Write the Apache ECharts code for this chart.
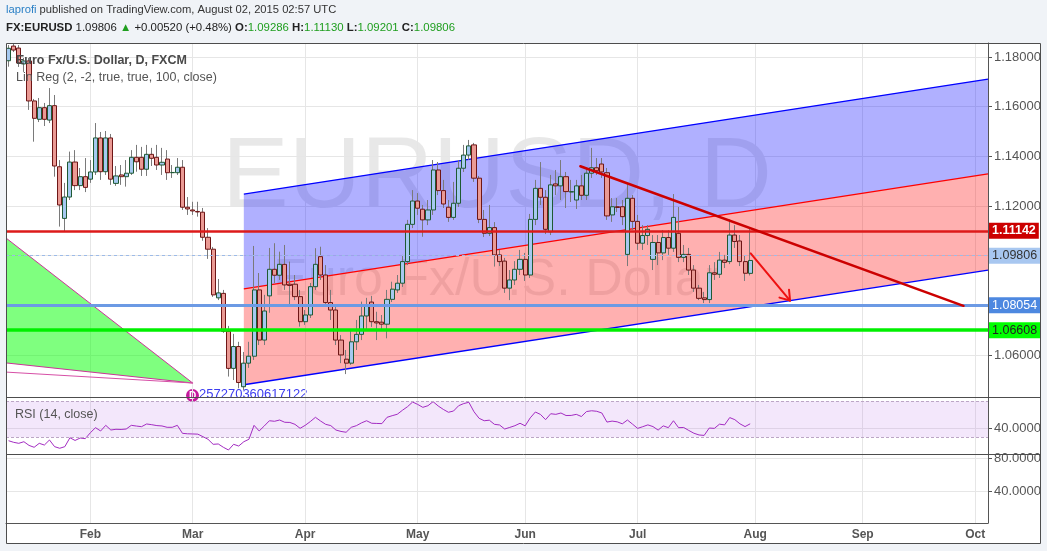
<!DOCTYPE html>
<html>
<head>
<meta charset="utf-8">
<title>FX:EURUSD D</title>
<script src="https://cdn.jsdelivr.net/npm/echarts@6.0.0/dist/echarts.min.js"></script>
<style>
  html, body { margin: 0; padding: 0; background: #f0f3f7; }
  #main { width: 1047px; height: 551px; }
</style>
</head>
<body>
<div id="main"></div>
<script>
// FX:EURUSD daily bars (FXCM), 2015-01-09 .. 2015-07-31
var opens = [
  1.1785, 1.1844, 1.1836, 1.1772, 1.1784, 1.1623, 1.1549, 1.1596, 1.1546, 1.1604,
  1.1358, 1.1150, 1.1236, 1.1377, 1.1282, 1.1318, 1.1308, 1.1337, 1.1474, 1.1338,
  1.1474, 1.1291, 1.1325, 1.1318, 1.1332, 1.1396, 1.1396, 1.1348, 1.1408, 1.1396,
  1.1365, 1.1389, 1.1334, 1.1334, 1.1356, 1.1195, 1.1184, 1.1178, 1.1175, 1.1074,
  1.1026, 1.0830, 1.0848, 1.0695, 1.0546, 1.0634, 1.0472, 1.0567, 1.0595, 1.0862,
  1.0660, 1.0838, 1.0945, 1.0921, 1.0965, 1.0885, 1.0885, 1.0835, 1.0734, 1.0761,
  1.0875, 1.0996, 1.0922, 1.0811, 1.0781, 1.0660, 1.0583, 1.0567, 1.0653, 1.0683,
  1.0757, 1.0813, 1.0734, 1.0732, 1.0724, 1.0824, 1.0862, 1.0889, 1.0976, 1.1126,
  1.1220, 1.1187, 1.1144, 1.1184, 1.1345, 1.1262, 1.1195, 1.1154, 1.1211, 1.1352,
  1.1405, 1.1446, 1.1312, 1.1146, 1.1090, 1.1113, 1.1003, 1.0978, 1.0869, 1.0902,
  1.0945, 1.0985, 1.0922, 1.1146, 1.1271, 1.1235, 1.1096, 1.1289, 1.1281, 1.1318,
  1.1256, 1.1224, 1.1281, 1.1243, 1.1332, 1.1354, 1.1369, 1.1334, 1.1164, 1.1197,
  1.1197, 1.1005, 1.1231, 1.1138, 1.1050, 1.1081, 1.0985, 1.1053, 1.1011, 1.1073,
  1.1030, 1.1090, 1.0993, 1.1005, 1.0942, 1.0869, 1.0830, 1.0823, 1.0931, 1.0925,
  1.0982, 1.0976, 1.1083, 1.1059, 1.0976, 1.09286
];
var closes = [
  1.1835, 1.1828, 1.1776, 1.1784, 1.1623, 1.1553, 1.1596, 1.1549, 1.1604, 1.1361,
  1.1204, 1.1236, 1.1377, 1.1282, 1.1318, 1.1275, 1.1337, 1.1474, 1.1338, 1.1474,
  1.1308, 1.1321, 1.1318, 1.1332, 1.1396, 1.1378, 1.1348, 1.1408, 1.1392, 1.1365,
  1.1376, 1.1334, 1.1335, 1.1356, 1.1195, 1.1188, 1.1180, 1.1176, 1.1074, 1.1026,
  1.0842, 1.0850, 1.0695, 1.0546, 1.0634, 1.0489, 1.0567, 1.0595, 1.0862, 1.0660,
  1.0777, 1.0945, 1.0921, 1.0965, 1.0882, 1.0880, 1.0835, 1.0734, 1.0761, 1.0875,
  1.0965, 1.0922, 1.0811, 1.0781, 1.0660, 1.0600, 1.0567, 1.0653, 1.0683, 1.0757,
  1.0801, 1.0734, 1.0729, 1.0724, 1.0824, 1.0865, 1.0889, 1.0976, 1.1126, 1.1220,
  1.1191, 1.1144, 1.1184, 1.1345, 1.1262, 1.1208, 1.1154, 1.1211, 1.1352, 1.1405,
  1.1442, 1.1312, 1.1146, 1.1090, 1.1113, 1.1003, 1.0976, 1.0869, 1.0902, 1.0945,
  1.0985, 1.0922, 1.1146, 1.1271, 1.1235, 1.1106, 1.1285, 1.1281, 1.1318, 1.1258,
  1.1258, 1.1281, 1.1243, 1.1332, 1.1354, 1.1342, 1.1337, 1.1160, 1.1197, 1.1194,
  1.1157, 1.1231, 1.1138, 1.1050, 1.1081, 1.1106, 1.1053, 1.1011, 1.1073, 1.1030,
  1.1154, 1.0993, 1.1005, 1.0942, 1.0869, 1.0828, 1.0823, 1.0931, 1.0925, 1.0982,
  1.0973, 1.1083, 1.1057, 1.0976, 1.0929, 1.09806
];
var lows = [
  1.1761, 1.1820, 1.1760, 1.1740, 1.1587, 1.1459, 1.1538, 1.1522, 1.1534, 1.1318,
  1.1117, 1.1096, 1.1224, 1.1264, 1.1264, 1.1256, 1.1293, 1.1325, 1.1305, 1.1325,
  1.1285, 1.1281, 1.1285, 1.1278, 1.1325, 1.1338, 1.1321, 1.1321, 1.1361, 1.1345,
  1.1325, 1.1305, 1.1313, 1.1325, 1.1184, 1.1164, 1.1164, 1.1157, 1.1060, 1.0987,
  1.0834, 1.0821, 1.0689, 1.0513, 1.0499, 1.0466, 1.0459, 1.0548, 1.0580, 1.0640,
  1.0640, 1.0770, 1.0890, 1.0902, 1.0862, 1.0801, 1.0821, 1.0714, 1.0721, 1.0749,
  1.0862, 1.0902, 1.0801, 1.0741, 1.0640, 1.0567, 1.0523, 1.0560, 1.0620, 1.0660,
  1.0701, 1.0713, 1.0660, 1.0701, 1.0667, 1.0813, 1.0850, 1.0874, 1.0962, 1.1111,
  1.1164, 1.1076, 1.1123, 1.1164, 1.1244, 1.1192, 1.1136, 1.1144, 1.1196, 1.1337,
  1.1385, 1.1297, 1.1131, 1.1075, 1.1079, 1.0956, 1.0958, 1.0850, 1.0821, 1.0882,
  1.0922, 1.0898, 1.0910, 1.1123, 1.1204, 1.1087, 1.1083, 1.1244, 1.1224, 1.1192,
  1.1216, 1.1188, 1.1224, 1.1224, 1.1313, 1.1325, 1.1313, 1.1144, 1.1136, 1.1176,
  1.1123, 1.0958, 1.1103, 1.1023, 1.1023, 1.1043, 1.0942, 1.0962, 1.0982, 1.1003,
  1.1015, 1.0974, 1.0974, 1.0922, 1.0854, 1.0821, 1.0809, 1.0809, 1.0902, 1.0910,
  1.0950, 1.0966, 1.1031, 1.0958, 1.0898, 1.09201
];
var highs = [
  1.1848, 1.1856, 1.1848, 1.1796, 1.1796, 1.1631, 1.1635, 1.1615, 1.1675, 1.1647,
  1.1385, 1.1293, 1.1419, 1.1425, 1.1353, 1.1393, 1.1385, 1.1534, 1.1498, 1.1502,
  1.1490, 1.1361, 1.1365, 1.1385, 1.1425, 1.1446, 1.1438, 1.1446, 1.1434, 1.1446,
  1.1434, 1.1425, 1.1365, 1.1393, 1.1385, 1.1236, 1.1217, 1.1217, 1.1192, 1.1111,
  1.1035, 1.0906, 1.0862, 1.0717, 1.0685, 1.0653, 1.0612, 1.0653, 1.1039, 1.0930,
  1.0842, 1.1031, 1.1050, 1.1016, 1.1043, 1.0976, 1.0922, 1.0862, 1.0781, 1.0890,
  1.1030, 1.1036, 1.0962, 1.0862, 1.0801, 1.0680, 1.0620, 1.0701, 1.0741, 1.0815,
  1.0830, 1.0838, 1.0774, 1.0761, 1.0862, 1.0895, 1.0922, 1.1003, 1.1144, 1.1264,
  1.1252, 1.1204, 1.1224, 1.1385, 1.1377, 1.1305, 1.1224, 1.1297, 1.1385, 1.1446,
  1.1466, 1.1454, 1.1321, 1.1184, 1.1204, 1.1135, 1.1023, 1.0991, 1.0942, 1.0978,
  1.1023, 1.1011, 1.1168, 1.1305, 1.1377, 1.1264, 1.1325, 1.1345, 1.1385, 1.1337,
  1.1305, 1.1305, 1.1325, 1.1353, 1.1434, 1.1393, 1.1393, 1.1353, 1.1232, 1.1232,
  1.1224, 1.1291, 1.1244, 1.1164, 1.1123, 1.1123, 1.1083, 1.1083, 1.1103, 1.1103,
  1.1248, 1.1196, 1.1043, 1.1031, 1.0962, 1.0882, 1.0854, 1.0962, 1.0974, 1.1015,
  1.1003, 1.1146, 1.1123, 1.1083, 1.0999, 1.11130
];
// RSI (14, close)
var rsiValues = [
  26.2, 24.4, 23.3, 25.1, 21.0, 18.9, 23.3, 21.4, 27.0, 19.6,
  17.8, 19.6, 29.5, 26.5, 29.2, 28.5, 35.1, 40.7, 37.0, 43.3,
  38.1, 38.9, 38.7, 39.2, 43.3, 42.5, 41.8, 44.8, 44.0, 43.0,
  42.6, 41.1, 41.1, 43.3, 34.4, 33.9, 33.7, 33.5, 30.7, 27.8,
  22.2, 22.6, 18.9, 15.9, 22.2, 20.3, 25.1, 27.8, 43.3, 37.0,
  42.6, 48.4, 47.8, 49.2, 46.7, 46.5, 44.4, 40.0, 43.3, 47.5,
  52.2, 48.1, 44.4, 43.0, 38.1, 36.5, 35.6, 41.1, 42.9, 46.0,
  48.4, 45.6, 45.4, 45.2, 52.2, 54.0, 55.6, 60.0, 64.0, 69.2,
  66.5, 63.3, 65.1, 69.6, 64.8, 61.0, 57.8, 59.2, 65.1, 67.5,
  68.9, 58.4, 51.1, 48.4, 49.0, 44.4, 43.7, 39.2, 41.0, 42.9,
  45.6, 42.7, 51.6, 58.1, 55.4, 49.6, 56.2, 55.5, 57.0, 54.2,
  54.3, 55.5, 53.1, 58.6, 59.5, 58.9, 57.0, 46.9, 48.0, 47.2,
  45.0, 49.2, 44.6, 39.9, 41.8, 43.8, 41.9, 38.0, 42.7, 40.7,
  48.4, 40.7, 40.9, 37.6, 34.5, 32.6, 32.1, 40.3, 39.9, 44.6,
  43.8, 51.9, 49.6, 45.0, 41.9, 45.0
];

// drawings (bar index, price)
var chanX = [46, 191.5];
var chanUpper = [1.1248, 1.1711];
var chanMid = [1.0866, 1.1329];
var chanLower = [1.0480, 1.0942];
var trendX = [111.8, 186.7];
var trendY = [1.1360, 1.0798];
var arrowX = [145.1, 152.8];
var arrowY = [1.1009, 1.0819];
var triX = [-0.5, 36, -0.5];
var triY = [1.1071, 1.0487, 1.0568];
var wedgeX = [-0.5, 36];
var wedgeY = [1.0531, 1.0487];
var levels = [1.11142, 1.08054, 1.06608];
var lastClose = 1.09806;

var priceTicks = [1.06, 1.08, 1.10, 1.12, 1.14, 1.16, 1.18];
var priceLabels = [1.06, 1.12, 1.14, 1.16, 1.18];
var rsiTicks = [40];
var lowerTicks = [40, 80];
var MONTHS = ['Jan','Feb','Mar','Apr','May','Jun','Jul','Aug','Sep','Oct','Nov','Dec'];

var N_BARS = 192; // slots on screen, incl. empty space on the right

// weekday dates from 2015-01-09
var dates = [];
(function () {
  var d = new Date(Date.UTC(2015, 0, 9));
  while (dates.length < N_BARS) {
    var w = d.getUTCDay();
    if (w !== 0 && w !== 6) dates.push(d.toISOString().slice(0, 10));
    d.setUTCDate(d.getUTCDate() + 1);
  }
})();
var monthStarts = [];
dates.forEach(function (s, i) {
  if (i > 0 && s.slice(5, 7) !== dates[i - 1].slice(5, 7)) monthStarts.push(i);
});

var ohlc = opens.map(function (o, i) { return [o, closes[i], lows[i], highs[i]]; });
var bodies = opens.map(function (o, i) {
  return [o, closes[i], Math.min(o, closes[i]), Math.max(o, closes[i])];
});

var FONT = 'Liberation Sans, Arial, sans-serif';
var GRID_COLOR = '#e6e6e6';
var AXIS_COLOR = '#555';

function timeAxis(grid, withLabels) {
  return {
    type: 'value', gridIndex: grid, min: -0.5, max: N_BARS - 0.5,
    axisLine: { show: withLabels, onZero: false, lineStyle: { color: AXIS_COLOR } },
    axisTick: { show: false, customValues: monthStarts },
    axisLabel: {
      show: withLabels, customValues: monthStarts, margin: 6,
      color: '#555', fontSize: 12, fontWeight: 'bold', fontFamily: FONT,
      formatter: function (v) { return MONTHS[+dates[Math.round(v)].slice(5, 7) - 1]; }
    },
    splitLine: { show: true, lineStyle: { color: GRID_COLOR, width: 1 } }
  };
}

function priceAxis(grid, min, max, ticks, labels, digits) {
  return {
    type: 'value', gridIndex: grid, position: 'right', min: min, max: max,
    axisLine: { show: true, onZero: false, lineStyle: { color: AXIS_COLOR } },
    axisTick: { show: true, inside: false, length: 4, customValues: ticks, lineStyle: { color: AXIS_COLOR } },
    axisLabel: {
      customValues: labels, margin: 6, color: '#555', fontSize: 13, fontFamily: FONT,
      formatter: function (v) { return v.toFixed(digits); }
    },
    splitLine: { show: true, lineStyle: { color: GRID_COLOR, width: 1 } }
  };
}

function renderChannel(params, api) {
  var xa = api.value(0), xb = api.value(1);
  var ua = api.coord([xa, api.value(2)]), ub = api.coord([xb, api.value(3)]);
  var ma = api.coord([xa, api.value(4)]), mb = api.coord([xb, api.value(5)]);
  var la = api.coord([xa, api.value(6)]), lb = api.coord([xb, api.value(7)]);
  function seg(a, b, c) {
    return { type: 'line', shape: { x1: a[0], y1: a[1], x2: b[0], y2: b[1] }, style: { stroke: c, lineWidth: 1.3 } };
  }
  return {
    type: 'group',
    children: [
      { type: 'polygon', shape: { points: [ua, ub, mb, ma] }, style: { fill: 'rgba(0,0,255,0.31)' } },
      { type: 'polygon', shape: { points: [ma, mb, lb, la] }, style: { fill: 'rgba(255,0,0,0.31)' } },
      seg(ua, ub, '#0000ff'), seg(ma, mb, '#ff0000'), seg(la, lb, '#0000ff')
    ]
  };
}

function renderTriangle(params, api) {
  var p = [api.coord([api.value(0), api.value(1)]),
           api.coord([api.value(2), api.value(3)]),
           api.coord([api.value(4), api.value(5)])];
  return { type: 'polygon', shape: { points: p },
           style: { fill: 'rgba(0,255,0,0.5)', stroke: '#cc3399', lineWidth: 1 } };
}

function renderSegment(color, width, head) {
  return function (params, api) {
    var a = api.coord([api.value(0), api.value(1)]);
    var b = api.coord([api.value(2), api.value(3)]);
    var kids = [{ type: 'line', shape: { x1: a[0], y1: a[1], x2: b[0], y2: b[1] },
                  style: { stroke: color, lineWidth: width, lineCap: 'round' } }];
    if (head) {
      var ang = Math.atan2(b[1] - a[1], b[0] - a[0]);
      [0.6, -0.6].forEach(function (d) {
        kids.push({ type: 'line',
          shape: { x1: b[0], y1: b[1], x2: b[0] - 11 * Math.cos(ang + d), y2: b[1] - 11 * Math.sin(ang + d) },
          style: { stroke: color, lineWidth: width, lineCap: 'round' } });
      });
    }
    return { type: 'group', children: kids };
  };
}

function tag(value, line, bg, fg, bold) {
  return {
    yAxis: value,
    lineStyle: line,
    label: {
      show: true, position: 'end', distance: 1,
      formatter: value.toFixed(5),
      backgroundColor: bg, color: fg, padding: [2, 3, 1, 3],
      fontSize: 12.5, fontFamily: FONT, fontWeight: bold ? 'bold' : 'normal'
    }
  };
}

var chart = echarts.init(document.getElementById('main'), null, { renderer: 'canvas' });

chart.setOption({
  backgroundColor: '#f0f3f7',
  animation: false,
  textStyle: { fontFamily: FONT },
  grid: [
    { left: 6, right: 59, top: 43, height: 354, outerBoundsMode: 'none' },
    { left: 6, right: 59, top: 397, height: 57, outerBoundsMode: 'none' },
    { left: 6, right: 59, top: 454, height: 69, outerBoundsMode: 'none' }
  ],
  xAxis: [
    { type: 'category', gridIndex: 0, data: dates, boundaryGap: true, show: false },
    timeAxis(0, false),
    timeAxis(1, false),
    timeAxis(2, true)
  ],
  yAxis: [
    priceAxis(0, 1.04307, 1.18564, priceTicks, priceLabels, 5),
    priceAxis(1, 11.44, 74.78, rsiTicks, rsiTicks, 4),
    priceAxis(2, 0.86, 85.26, lowerTicks, lowerTicks, 4)
  ],
  series: [
    {
      type: 'custom', name: 'Lin Reg', xAxisIndex: 1, yAxisIndex: 0, z: 1, silent: true,
      renderItem: renderChannel,
      encode: { x: [0, 1], y: [2, 3, 4, 5, 6, 7] },
      data: [[chanX[0], chanX[1], chanUpper[0], chanUpper[1], chanMid[0], chanMid[1], chanLower[0], chanLower[1]]]
    },
    {
      type: 'custom', name: 'triangle', xAxisIndex: 1, yAxisIndex: 0, z: 1, silent: true, clip: true,
      renderItem: renderTriangle,
      encode: { x: [0, 2, 4], y: [1, 3, 5] },
      data: [[triX[0], triY[0], triX[1], triY[1], triX[2], triY[2]]]
    },
    {
      type: 'custom', name: 'wedge', xAxisIndex: 1, yAxisIndex: 0, z: 1, silent: true, clip: true,
      renderItem: renderSegment('#d64fa6', 1, false),
      encode: { x: [0, 2], y: [1, 3] },
      data: [[wedgeX[0], wedgeY[0], wedgeX[1], wedgeY[1]]]
    },
    {
      type: 'candlestick', name: 'wicks', xAxisIndex: 0, yAxisIndex: 0, z: 2, silent: true,
      barWidth: 1,
      itemStyle: { color: '#7a7a7a', color0: '#7a7a7a', borderColor: '#7a7a7a', borderColor0: '#7a7a7a', borderWidth: 1 },
      data: ohlc
    },
    {
      type: 'candlestick', name: 'EURUSD', xAxisIndex: 0, yAxisIndex: 0, z: 3, silent: true,
      barWidth: 4.6,
      itemStyle: {
        color: '#a6c9f0', color0: '#ea9a94',
        borderColor: '#1f5a34', borderColor0: '#6e1616', borderWidth: 1
      },
      data: bodies
    },
    {
      type: 'line', name: 'levels', xAxisIndex: 1, yAxisIndex: 0, z: 5, data: [],
      markLine: {
        silent: true, symbol: ['none', 'none'], animation: false,
        data: [
          tag(lastClose, { color: '#9dbbe8', width: 1, type: [3, 3] }, '#a8c7f0', '#333', false),
          tag(levels[2], { color: '#00f000', width: 3.5, type: 'solid' }, '#00ff00', '#222', false),
          tag(levels[1], { color: '#6c9ae4', width: 3, type: 'solid' }, '#4d88e0', '#fff', false),
          tag(levels[0], { color: '#dd1a1a', width: 2.5, type: 'solid' }, '#cc0000', '#fff', true)
        ]
      }
    },
    {
      type: 'custom', name: 'trend', xAxisIndex: 1, yAxisIndex: 0, z: 6, silent: true,
      renderItem: renderSegment('#cc0000', 2.5, false),
      encode: { x: [0, 2], y: [1, 3] },
      data: [[trendX[0], trendY[0], trendX[1], trendY[1]]]
    },
    {
      type: 'custom', name: 'arrow', xAxisIndex: 1, yAxisIndex: 0, z: 6, silent: true,
      renderItem: renderSegment('#ee1111', 2, true),
      encode: { x: [0, 2], y: [1, 3] },
      data: [[arrowX[0], arrowY[0], arrowX[1], arrowY[1]]]
    },
    {
      type: 'line', name: 'RSI', xAxisIndex: 2, yAxisIndex: 1, z: 3,
      symbol: 'none', silent: true,
      lineStyle: { color: '#a32cc2', width: 1 },
      data: rsiValues.map(function (v, i) { return [i, v]; }),
      markArea: {
        silent: true,
        itemStyle: { color: 'rgba(190,120,235,0.18)' },
        data: [[{ yAxis: 30 }, { yAxis: 70 }]]
      },
      markLine: {
        silent: true, symbol: ['none', 'none'],
        label: { show: false },
        lineStyle: { color: '#bca6c6', width: 1, type: [3, 2] },
        data: [{ yAxis: 70 }, { yAxis: 30 }]
      }
    }
  ],
  graphic: [
    { type: 'rect', z: -10, silent: true, shape: { x: 6.5, y: 43.5, width: 1034, height: 500 }, style: { fill: '#fff' } },
    { type: 'text', z: 0, silent: true, x: 497, y: 229,
      style: { text: 'EURUSD, D', fill: 'rgba(0,0,0,0.09)', font: '100px ' + FONT, align: 'center', verticalAlign: 'bottom' } },
    { type: 'text', z: 0, silent: true, x: 497, y: 307,
      style: { text: 'Euro Fx/U.S. Dollar', fill: 'rgba(0,0,0,0.09)', font: '52px ' + FONT, align: 'center', verticalAlign: 'bottom' } },
    { type: 'text', z: 10, silent: true, x: 6, y: 10,
      style: {
        text: '{u|laprofi} published on TradingView.com, August 02, 2015 02:57 UTC',
        fill: '#333', font: '11.2px ' + FONT, verticalAlign: 'middle',
        rich: { u: { fill: '#2a80c6', font: '11.2px ' + FONT } }
      } },
    { type: 'text', z: 10, silent: true, x: 6, y: 28,
      style: {
        text: '{b|FX:EURUSD} 1.09806 {g|\u25B2} +0.00520 (+0.48%) {b|O:}{g|1.09286} {b|H:}{g|1.11130} {b|L:}{g|1.09201} {b|C:}{g|1.09806}',
        fill: '#222', font: '11.4px ' + FONT, verticalAlign: 'middle',
        rich: {
          b: { fill: '#222', font: 'bold 11.4px ' + FONT },
          g: { fill: '#1f9e1f', font: '11.4px ' + FONT }
        }
      } },
    { type: 'text', z: 10, silent: true, x: 16, y: 61,
      style: { text: 'Euro Fx/U.S. Dollar, D, FXCM', fill: '#4a4a4a', font: 'bold 12.5px ' + FONT, verticalAlign: 'middle' } },
    { type: 'text', z: 10, silent: true, x: 16, y: 77.5,
      style: { text: 'Lin Reg (2, -2, true, true, 100, close)', fill: '#555', font: '12.5px ' + FONT, verticalAlign: 'middle' } },
    { type: 'text', z: 10, silent: true, x: 15, y: 415,
      style: { text: 'RSI (14, close)', fill: '#555', font: '12.5px ' + FONT, verticalAlign: 'middle' } },
    { type: 'circle', z: 0, silent: true, shape: { cx: 192.5, cy: 395.5, r: 6.5 }, style: { fill: '#c4199c' } },
    { type: 'text', z: 0, silent: true, x: 192.5, y: 396,
      style: { text: 'D', fill: '#fff', font: 'bold 10px ' + FONT, align: 'center', verticalAlign: 'middle' } },
    { type: 'text', z: 0, silent: true, x: 199, y: 401,
      style: { text: '257270360617122', fill: '#3c3cf0', font: '13px ' + FONT, verticalAlign: 'bottom' } },
    { type: 'rect', z: 50, silent: true, shape: { x: 6.5, y: 43.5, width: 1034, height: 500 },
      style: { fill: 'none', stroke: '#4d4d4d', lineWidth: 1 } },
    { type: 'line', z: 50, silent: true, shape: { x1: 6.5, y1: 397.5, x2: 1040.5, y2: 397.5 },
      style: { stroke: '#4d4d4d', lineWidth: 1 } },
    { type: 'line', z: 50, silent: true, shape: { x1: 6.5, y1: 454.5, x2: 1040.5, y2: 454.5 },
      style: { stroke: '#4d4d4d', lineWidth: 1 } }
  ]
});
</script>
</body>
</html>
